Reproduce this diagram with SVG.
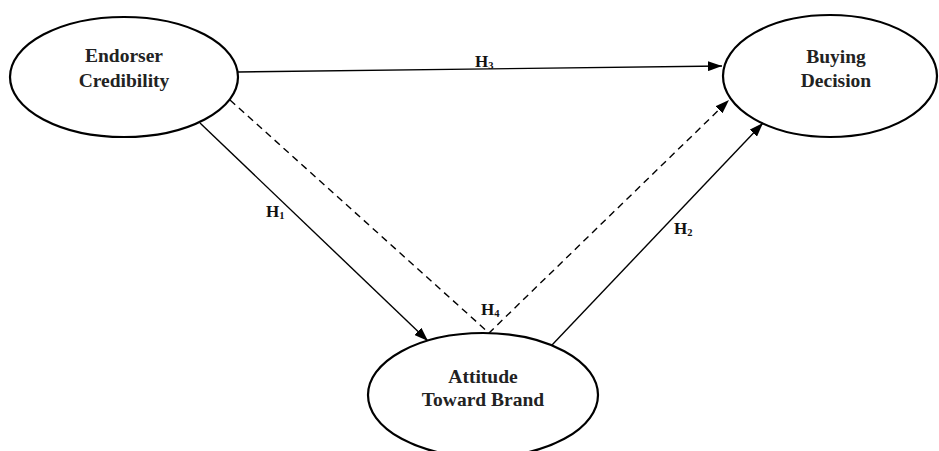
<svg xmlns="http://www.w3.org/2000/svg" width="939" height="451" viewBox="0 0 939 451">
<style>
.node{fill:#fff;stroke:#000;stroke-width:2.2}
.nt{font-family:"Liberation Serif","Times New Roman",serif;font-weight:bold;font-size:19.5px;fill:#222;text-anchor:middle}
.ht{font-family:"Liberation Serif","Times New Roman",serif;font-weight:bold;font-size:17px;fill:#111}
.sub{font-size:10.5px}
.ln{stroke:#000;stroke-width:1.4;fill:none}
.dash{stroke-dasharray:7,5}
</style>
<defs>
<marker id="ah" viewBox="0 0 14 10" refX="14" refY="5" markerWidth="14" markerHeight="10" markerUnits="userSpaceOnUse" orient="auto">
<path d="M0,0 L14,5 L0,10 Z" fill="#000"/>
</marker>
</defs>
<rect width="939" height="451" fill="#fff"/>
<g id="connectors">
<line class="ln" x1="238" y1="72" x2="722" y2="66" marker-end="url(#ah)"/>
<line class="ln" x1="200" y1="123" x2="428" y2="341" marker-end="url(#ah)"/>
<polyline class="ln dash" points="230,100 489,333 729,100" marker-end="url(#ah)"/>
<line class="ln" x1="552" y1="345" x2="763" y2="123" marker-end="url(#ah)"/>
</g>
<g id="labels">
<text class="ht" x="475" y="67">H<tspan class="sub" dy="2">3</tspan></text>
<text class="ht" x="266" y="217">H<tspan class="sub" dy="2">1</tspan></text>
<text class="ht" x="674" y="234">H<tspan class="sub" dy="2">2</tspan></text>
<text class="ht" x="481" y="315">H<tspan class="sub" dy="2">4</tspan></text>
</g>
<g id="endorser">
<ellipse class="node" cx="124" cy="77" rx="114" ry="60"/>
<text class="nt" x="124" y="62">Endorser</text>
<text class="nt" x="124" y="87">Credibility</text>
</g>
<g id="buying">
<ellipse class="node" cx="830" cy="76" rx="107" ry="61"/>
<text class="nt" x="836" y="63">Buying</text>
<text class="nt" x="836" y="87">Decision</text>
</g>
<g id="attitude">
<ellipse class="node" cx="483" cy="395" rx="115" ry="62"/>
<text class="nt" x="483" y="383">Attitude</text>
<text class="nt" x="483" y="406">Toward Brand</text>
</g>
</svg>
